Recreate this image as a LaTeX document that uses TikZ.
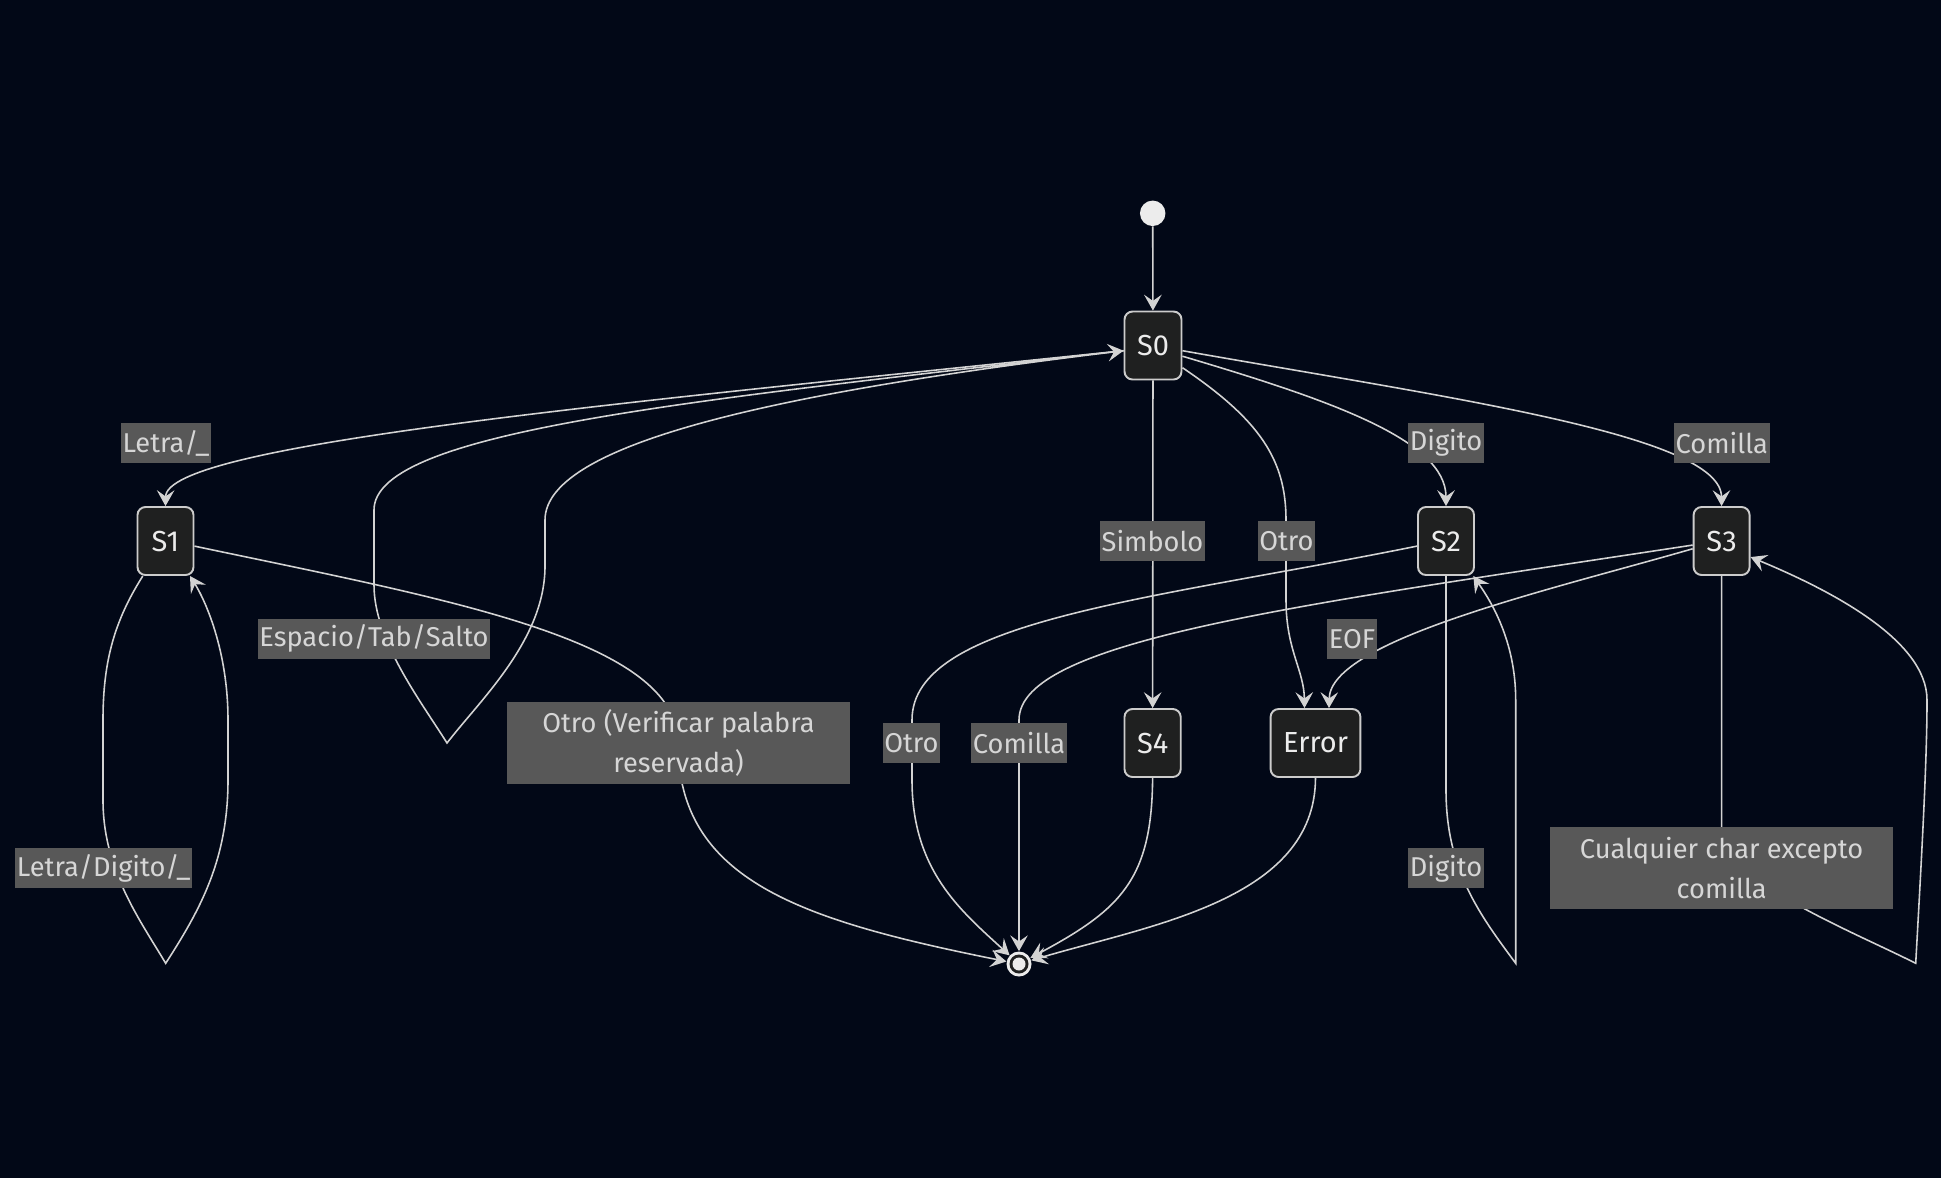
\documentclass[tikz,border=0pt]{standalone}
\usepackage{fontspec}
\setmainfont{Fira Sans}
\usetikzlibrary{arrows.meta,calc}

\definecolor{bgdark}{RGB}{2,8,23}
\definecolor{statefill}{RGB}{31,32,32}
\definecolor{stateline}{RGB}{204,204,204}
\definecolor{edgeline}{RGB}{211,211,211}
\definecolor{lblfill}{RGB}{88,88,88}
\definecolor{lbltext}{RGB}{214,214,214}
\definecolor{dotfill}{RGB}{236,236,236}

\begin{document}
\begin{tikzpicture}
[
	x=0.02cm, y=-0.02cm,
	state/.style={draw=stateline, line width=1.1pt, fill=statefill, rounded corners=0.16cm, minimum width=1.12cm, minimum height=1.36cm, inner xsep=0.25cm, text=dotfill, font=\fontsize{16.5}{19}\selectfont},
	lbl/.style={fill=lblfill, text=lbltext, inner xsep=1pt, inner ysep=0pt, minimum height=0.8cm, font=\fontsize{15.5}{18}\selectfont},
	biglbl/.style={lbl, minimum width=6.85cm, minimum height=1.63cm, align=center, font=\fontsize{15.5}{23}\selectfont},
	trans/.style={draw=edgeline, line width=0.9pt, -{Stealth[length=9pt,width=10pt,inset=3.5pt]}},
]

	% background
	\fill[bgdark] (0,0) rectangle (1941,1178);
	\useasboundingbox (0,0) rectangle (1941,1178);

	% states
	\node[circle, fill=dotfill, minimum size=0.51cm, inner sep=0pt] (start) at (1152.7,213.3) {};
	\node[state] (S0) at (1153,345.5) {S0};
	\node[state] (S1) at (165.5,541) {S1};
	\node[state] (S2) at (1446,541) {S2};
	\node[state] (S3) at (1721.6,541) {S3};
	\node[state] (S4) at (1152.6,743) {S4};
	\node[state] (Error) at (1315.5,743) {Error};
	\node[circle, fill=dotfill, minimum size=0.5cm, inner sep=0pt] (fin) at (1019,964) {};
	\fill[statefill] (fin.center) circle (0.19cm);
	\fill[dotfill] (fin.center) circle (0.13cm);

	% loop turning points
	\coordinate (vS0) at (447,743);
	\coordinate (vS1) at (165.7,963.3);
	\coordinate (vS2) at (1515.7,963.3);
	\coordinate (vS3) at (1915.7,963.3);

	% transitions
	\draw[trans] (start) -- (S0);
	\draw[trans] (S0.190) .. controls (600,405) and (166,445) .. (S1.north);
	\draw[trans] (S0.190) .. controls (700,400) and (374,430) .. (374,510) -- (374,585) .. controls (374,640) and (420,700) .. (vS0) .. controls (480,700) and (545,640) .. (545,566) -- (545,520) .. controls (545,440) and (800,390) .. (S0.190);
	\draw[trans] (S1.-123) .. controls (115,620) and (103,660) .. (103,720) -- (103,800) .. controls (103,870) and (140,920) .. (vS1) .. controls (200,910) and (228,860) .. (228,780) -- (228,720) .. controls (228,650) and (205,600) .. (S1.-55);
	\draw[trans] (S1.-10) .. controls (450,600) and (678,640) .. (678,743) .. controls (678,880) and (800,920) .. (fin);
	\draw[trans] (S0) -- (S4);
	\draw[trans] (S0.-37) .. controls (1260,420) and (1286,460) .. (1286,520) -- (1286,600) .. controls (1286,650) and (1304,670) .. ($(Error.north)+(-11,0)$);
	\draw[trans] (S0.-20) .. controls (1330,400) and (1446,440) .. (S2.north);
	\draw[trans] (S0.-10) .. controls (1450,398) and (1721,435) .. (S3.north);
	\draw[trans] (S2.south) -- (1446,790) .. controls (1446,870) and (1480,915) .. (vS2) -- (1515.7,700) .. controls (1515.7,640) and (1490,600) .. (S2.-52);
	\draw[trans] (S2.190) .. controls (1150,600) and (912,620) .. (912,720) -- (912,780) .. controls (912,870) and (960,910) .. (fin);
	\draw[trans] (S3.188) .. controls (1300,605) and (1019,640) .. (1019,720) -- (fin);
	\draw[trans] (S3.195) .. controls (1550,590) and (1330,640) .. ($(Error.north)+(13.5,0)$);
	\draw[trans] (S3.south) -- (1721.6,830) .. controls (1721.6,880) and (1850,930) .. (vS3) .. controls (1922,850) and (1927,760) .. (1927,700) .. controls (1927,640) and (1830,590) .. (S3.-29);
	\draw[trans] (S4.south) .. controls (1152,880) and (1120,910) .. (fin);
	\draw[trans] (Error.south) .. controls (1315,900) and (1150,925) .. (fin);

	% labels
	\node[lbl] (lLetra) at (166,443) {Letra/\_};
	\node[lbl] (lEspacio) at (374,638.5) {Espacio/Tab/Salto};
	\node[lbl] (lLetraDig) at (103.7,868.3) {Letra/Digito/\_};
	\node[biglbl] (lVerif) at (678.5,743) {Otro (Verificar palabra\\reservada)};
	\node[lbl] (lSimbolo) at (1152.5,541) {Simbolo};
	\node[lbl] (lOtroErr) at (1286.4,541) {Otro};
	\node[lbl] (lDigito) at (1446,443) {Digito};
	\node[lbl] (lComilla) at (1721.8,443) {Comilla};
	\node[lbl] (lEOF) at (1352,638.7) {EOF};
	\node[lbl] (lOtroFin) at (911.4,743) {Otro};
	\node[lbl] (lComillaFin) at (1019,743) {Comilla};
	\node[lbl] (lDigitoLoop) at (1446,868.3) {Digito};
	\node[biglbl] (lCualq) at (1721.6,868) {Cualquier char excepto\\comilla};

\end{tikzpicture}
\end{document}
